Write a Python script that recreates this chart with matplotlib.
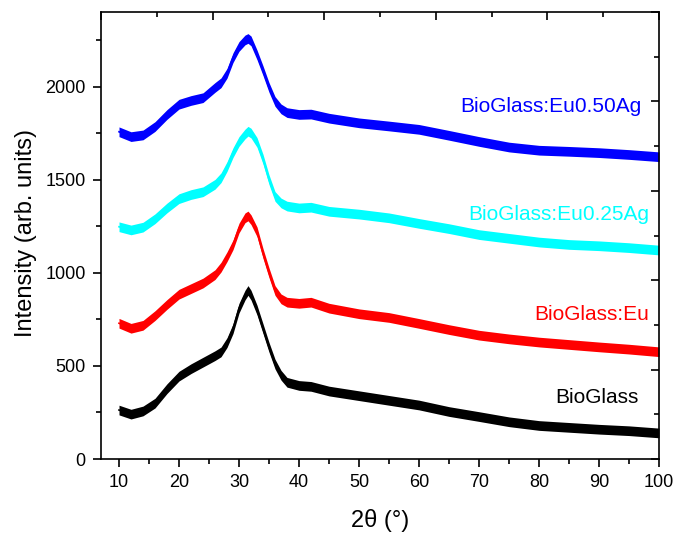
"""Plot XRD patterns of the BioGlass series, stacked with vertical offsets.

Usage
-----
python plot.py
"""

import matplotlib.pyplot as plt
from matplotlib.ticker import MultipleLocator

plt.rcParams['font.family'] = ['Liberation Sans', 'DejaVu Sans']

# 2-theta positions (degrees) at which each pattern was read
two_theta = [10, 12, 14, 16, 18, 20, 22, 24, 26, 27, 28, 29, 30, 31, 31.5,
             32, 33, 34, 35, 36, 37, 38, 40, 42, 45, 50, 55, 60, 65, 70,
             75, 80, 85, 90, 95, 100]

# intensities (arb. units), already offset as stacked in the figure
bioglass = [263, 241, 258, 300, 378, 445, 485, 520, 555, 575, 625, 700, 810,
            880, 905, 880, 800, 700, 600, 510, 450, 412, 395, 390, 365, 340,
            315, 290, 255, 228, 200, 180, 170, 160, 152, 140]
bioglass_eu = [729, 702, 718, 770, 830, 885, 915, 945, 990, 1030, 1086, 1150,
               1240, 1295, 1305, 1285, 1220, 1104, 1000, 905, 860, 842, 836,
               842, 810, 780, 760, 728, 695, 665, 645, 628, 615, 602, 590, 576]
bioglass_eu025ag = [1247, 1230, 1245, 1290, 1348, 1398, 1420, 1435, 1475, 1510,
                    1570, 1645, 1705, 1745, 1760, 1750, 1700, 1610, 1500, 1410,
                    1375, 1358, 1348, 1352, 1330, 1315, 1295, 1265, 1237, 1205,
                    1185, 1165, 1152, 1145, 1135, 1122]
bioglass_eu050ag = [1757, 1731, 1740, 1785, 1850, 1905, 1925, 1940, 1995, 2020,
                    2071, 2155, 2215, 2250, 2258, 2245, 2170, 2085, 1995, 1920,
                    1880, 1860, 1850, 1852, 1830, 1805, 1788, 1770, 1738, 1705,
                    1675, 1658, 1652, 1645, 1635, 1623]

series_names = ['BioGlass', 'BioGlass:Eu', 'BioGlass:Eu0.25Ag', 'BioGlass:Eu0.50Ag']
series_colors = ['black', '#ff0000', '#00ffff', '#0000ff']
# where each name sits (right edge, baseline)
label_x = [96.6, 98.4, 98.3, 97.1]
label_y = [299, 746, 1283, 1865]


def plot_patterns(ax):
    """Draw the four stacked patterns with their names.

    Parameters
    ----------
    ax : matplotlib.axes.Axes
        Axes object on which the patterns will be drawn.

    Returns
    -------
    None
        This function modifies the provided Axes object in place.
    """
    patterns = [bioglass, bioglass_eu, bioglass_eu025ag, bioglass_eu050ag]
    noise = 26  # half-height of the counting-noise band
    for values, name, color, tx, ty in zip(patterns, series_names, series_colors,
                                           label_x, label_y):
        low = [v - noise for v in values]
        high = [v + noise for v in values]
        ax.fill_between(two_theta, low, high, color=color, linewidth=0)
        ax.plot(two_theta, values, color=color, linewidth=1.2)
        ax.text(tx, ty, name, color=color, fontsize=15, ha='right', va='baseline')


def style_axes(fig, ax):
    """Set limits, ticks and labels, and add the tick-only top/right frame.

    Parameters
    ----------
    fig : matplotlib.figure.Figure
        Figure that holds the axes.
    ax : matplotlib.axes.Axes
        Main axes with the patterns.

    Returns
    -------
    None
    """
    ax.set_xlim(7, 100)
    ax.set_ylim(0, 2400)
    ax.xaxis.set_major_locator(MultipleLocator(10))
    ax.xaxis.set_minor_locator(MultipleLocator(5))
    ax.yaxis.set_major_locator(MultipleLocator(500))
    ax.yaxis.set_minor_locator(MultipleLocator(250))
    ax.tick_params(which='both', direction='out', width=1.2, labelsize=13,
                   top=False, right=False)
    ax.tick_params(which='major', length=6, pad=5)
    ax.tick_params(which='minor', length=3.3)
    for spine in ax.spines.values():
        spine.set_linewidth(1.2)

    ax.set_xlabel("2\u03b8 (\u00b0)", fontsize=17)
    ax.set_ylabel("Intensity (arb. units)", fontsize=17)
    ax.xaxis.set_label_coords(0.5, -0.112)
    ax.yaxis.set_label_coords(-0.115, 0.505)

    frame = fig.add_axes(ax.get_position(), frameon=False)
    frame.set_xlim(0, 10)
    frame.set_ylim(0, 10)
    frame.patch.set_visible(False)
    frame.xaxis.tick_top()
    frame.yaxis.tick_right()
    for axis in (frame.xaxis, frame.yaxis):
        axis.set_major_locator(MultipleLocator(2))
        axis.set_minor_locator(MultipleLocator(1))
    frame.tick_params(which='both', direction='in', width=1.2,
                      labeltop=False, labelright=False)
    frame.tick_params(which='major', length=6)
    frame.tick_params(which='minor', length=3.3)


def main():
    """Build the figure and save it as out.png.

    Returns
    -------
    None
    """
    fig = plt.figure(figsize=(6.89, 5.34), dpi=100)
    ax = fig.add_axes([0.1466, 0.1404, 0.8099, 0.8371])
    plot_patterns(ax)
    style_axes(fig, ax)
    fig.savefig("out.png", dpi=100)


if __name__ == "__main__":
    main()
